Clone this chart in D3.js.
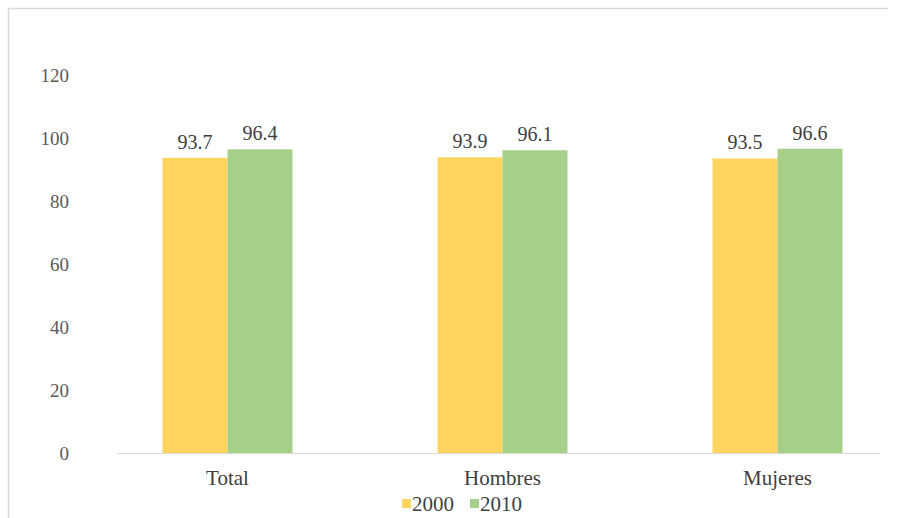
<!DOCTYPE html>
<html>
<head>
<meta charset="utf-8">
<script src="https://cdn.jsdelivr.net/npm/d3@7"></script>
<style>
  body { margin: 0; background: #fff; }
  text { font-family: "Liberation Serif", "Times New Roman", serif; fill: #404040; }
</style>
</head>
<body>
<svg id="chart" width="902" height="518"></svg>
<script>
// Chart data
const categories = ['Total', 'Hombres', 'Mujeres'];
const seriesNames = ['2000', '2010'];
const values2000 = [93.7, 93.9, 93.5];
const values2010 = [96.4, 96.1, 96.6];
const yTicks = [0, 20, 40, 60, 80, 100, 120];
const colors = ['#FFD55F', '#A6D08A'];

const svg = d3.select('#chart');

// Light frame around the chart
svg.append('path')
  .attr('d', 'M8.5,518 L8.5,8.5 L888,8.5')
  .attr('fill', 'none')
  .attr('stroke', '#d9d9d9')
  .attr('stroke-width', 1.5);

// Scales
const x = d3.scaleBand().domain(categories).range([90, 915]);
const y = d3.scaleLinear().domain([0, 120]).range([453, 75]);
const barW = 65;

// Y tick labels (no gridlines, no axis line)
svg.append('g')
  .selectAll('text')
  .data(yTicks)
  .join('text')
    .attr('x', 69)
    .attr('y', d => y(d))
    .attr('dy', '0.35em')
    .attr('text-anchor', 'end')
    .attr('font-size', 19)
    .style('fill', '#595959')
    .text(d => d);

// Baseline
svg.append('line')
  .attr('x1', 117).attr('x2', 880)
  .attr('y1', y(0) + 0.5).attr('y2', y(0) + 0.5)
  .attr('stroke', '#d9d9d9')
  .attr('stroke-width', 1);

// Bars
const series = [values2000, values2010];
series.forEach((vals, s) => {
  const g = svg.append('g');
  g.selectAll('rect')
    .data(vals)
    .join('rect')
      .attr('x', (d, i) => x(categories[i]) + x.bandwidth() / 2 - barW + s * barW)
      .attr('y', d => y(d))
      .attr('width', barW)
      .attr('height', d => y(0) - y(d))
      .attr('fill', colors[s]);

  g.selectAll('text')
    .data(vals)
    .join('text')
      .attr('x', (d, i) => x(categories[i]) + x.bandwidth() / 2 - barW / 2 + s * barW)
      .attr('y', d => y(d) - 9)
      .attr('text-anchor', 'middle')
      .attr('font-size', 20)
      .text(d => d.toFixed(1));
});

// Category labels
svg.append('g')
  .selectAll('text')
  .data(categories)
  .join('text')
    .attr('x', d => x(d) + x.bandwidth() / 2)
    .attr('y', 485)
    .attr('text-anchor', 'middle')
    .attr('font-size', 21)
    .text(d => d);

// Legend
const legend = svg.append('g');
const legendX = [402, 470];
seriesNames.forEach((name, i) => {
  legend.append('rect')
    .attr('x', legendX[i])
    .attr('y', 499)
    .attr('width', 9)
    .attr('height', 9)
    .attr('fill', colors[i]);
  legend.append('text')
    .attr('x', legendX[i] + 10)
    .attr('y', 511)
    .attr('font-size', 21)
    .text(name);
});
</script>
</body>
</html>
